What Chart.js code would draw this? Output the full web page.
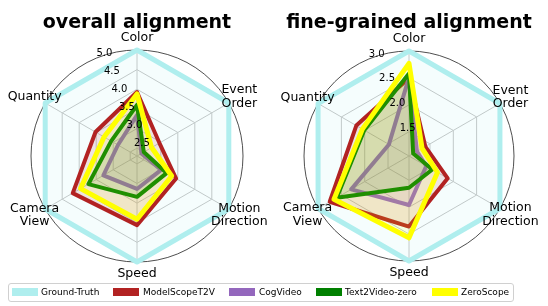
<!DOCTYPE html>
<html>
<head>
<meta charset="utf-8">
<script src="https://cdn.jsdelivr.net/npm/chart.js"></script>
<style>
  body { margin: 0; background: #fff; font-family: "DejaVu Sans", sans-serif; }
  #page { position: relative; width: 548px; height: 306px; overflow: hidden; }
  canvas { position: absolute; top: 0; }
  .title { position: absolute; top: 12px; font-weight: bold; font-size: 19px; line-height: 19px; text-align: center; color: #000; }
  #legend { position: absolute; left: 8px; top: 283px; width: 504px; height: 17px; border: 1px solid #d0d0d0; border-radius: 3px; background: rgba(255,255,255,0.8); }
  .patch { position: absolute; top: 4px; width: 26px; height: 8px; }
  .ltext { position: absolute; top: 0; line-height: 17px; font-size: 9px; color: #000; white-space: nowrap; }
</style>
</head>
<body>
<div id="page">
  <canvas id="overall" width="274" height="306" style="left:0"></canvas>
  <canvas id="fine" width="274" height="306" style="left:274px"></canvas>
  <div class="title" style="left:0; width:274px">overall alignment</div>
  <div class="title" style="left:274px; width:270px">fine-grained alignment</div>
  <div id="legend"></div>
</div>
<script>
const axisLabels = ['Color', ['Event', 'Order'], ['Motion', 'Direction'], 'Speed', ['Camera', 'View'], 'Quantity'];
const models = ['Ground-Truth', 'ModelScopeT2V', 'CogVideo', 'Text2Video-zero', 'ZeroScope'];
const colors = ['#afeeee', '#b22222', '#9467bd', '#008000', '#ffff00'];

// overall alignment (Color, Event Order, Motion Direction, Speed, Camera View, Quantity)
const overallGT = [5.0, 5.0, 5.0, 5.0, 5.0, 5.0];
const overallModelScope = [3.93, 2.96, 3.45, 4.06, 4.19, 3.52];
const overallCogVideo = [3.34, 2.43, 3.01, 3.14, 3.29, 2.86];
const overallText2Video = [3.60, 2.50, 3.17, 3.34, 3.73, 3.06];
const overallZeroScope = [3.88, 2.73, 3.32, 3.91, 3.96, 3.27];
const overallTicks = [2.5, 3.0, 3.5, 4.0, 4.5, 5.0];

// fine-grained alignment
const fineGT = [3.0, 3.0, 3.0, 3.0, 3.0, 3.0];
const fineModelScope = [2.50, 1.40, 1.88, 2.36, 2.75, 2.18];
const fineCogVideo = [2.51, 1.22, 1.42, 1.96, 2.29, 1.48];
const fineText2Video = [2.58, 1.14, 1.55, 1.64, 2.60, 2.01];
const fineZeroScope = [2.77, 1.33, 1.66, 2.57, 2.66, 2.05];
const fineTicks = [1.5, 2.0, 2.5, 3.0];

const widths = [5, 4, 4, 4, 5];

function hexA(hex, a) {
  const n = parseInt(hex.slice(1), 16);
  return `rgba(${n >> 16},${(n >> 8) & 255},${n & 255},${a})`;
}

let makeSets = (series) => series.map((vals, i) => ({
  label: models[i],
  data: vals,
  borderColor: colors[i],
  backgroundColor: hexA(colors[i], 0.12),
  borderWidth: widths[i],
  borderJoinStyle: 'round',
  fill: true,
  pointRadius: 0,
  order: 5 - i
}));

const radarDecor = {
  id: 'radarDecor',
  beforeDatasetsDraw(chart) {
    const r = chart.scales.r;
    const ctx = chart.ctx;
    ctx.save();
    ctx.beginPath();
    ctx.arc(r.xCenter, r.yCenter, r.drawingArea, 0, Math.PI * 2);
    ctx.strokeStyle = '#222';
    ctx.lineWidth = 0.8;
    ctx.stroke();
    ctx.restore();
  },
  afterDatasetsDraw(chart, args, opts) {
    const r = chart.scales.r;
    const ctx = chart.ctx;
    ctx.save();
    ctx.fillStyle = '#000';
    ctx.font = '10px "DejaVu Sans"';
    ctx.textAlign = 'left';
    ctx.textBaseline = 'bottom';
    const a = 22.5 * Math.PI / 180;
    opts.ticks.forEach(v => {
      const d = r.getDistanceFromCenterForValue(v);
      ctx.fillText(v.toFixed(1), r.xCenter - d * Math.sin(a), r.yCenter - d * Math.cos(a));
    });
    ctx.font = '12.5px "DejaVu Sans"';
    ctx.textAlign = 'center';
    ctx.textBaseline = 'middle';
    chart.data.labels.forEach((lab, i) => {
      const p = r.getPointPosition(i, r.drawingArea * 1.115);
      const lines = [].concat(lab);
      lines.forEach((s, k) => ctx.fillText(s, p.x, p.y + (k - (lines.length - 1) / 2) * 13.5));
    });
    ctx.restore();
  }
};

let makeRadar = (id, series, min, max, ticks, padding) => new Chart(document.getElementById(id), {
  type: 'radar',
  data: { labels: axisLabels, datasets: makeSets(series) },
  options: {
    responsive: false,
    animation: false,
    devicePixelRatio: 1,
    layout: { padding: padding },
    plugins: { legend: { display: false }, tooltip: { enabled: false }, title: { display: false }, radarDecor: { ticks: ticks } },
    scales: {
      r: {
        min: min,
        max: max,
        afterBuildTicks: (s) => { s.ticks = [min, ...ticks].map(v => ({ value: v })); },
        ticks: { display: false },
        grid: { color: '#c4c4c4', lineWidth: 1 },
        angleLines: { color: '#c4c4c4', lineWidth: 1 },
        pointLabels: { display: false }
      }
    }
  },
  plugins: [radarDecor]
});

makeRadar('overall',
  [overallGT, overallModelScope, overallCogVideo, overallText2Video, overallZeroScope],
  2.3, 5.0, overallTicks, { left: 31, right: 31, top: 50, bottom: 44 });

makeRadar('fine',
  [fineGT, fineModelScope, fineCogVideo, fineText2Video, fineZeroScope],
  1.05, 3.0, fineTicks, { left: 30, right: 34, top: 51, bottom: 45 });

// legend
const legend = document.getElementById('legend');
const patchX = [3, 104, 220, 307, 423];
const textX = [32, 134, 250, 336, 452];
models.forEach((m, i) => {
  const p = document.createElement('div');
  p.className = 'patch';
  p.style.left = patchX[i] + 'px';
  p.style.background = colors[i];
  legend.appendChild(p);
  const t = document.createElement('span');
  t.className = 'ltext';
  t.style.left = textX[i] + 'px';
  t.textContent = m;
  legend.appendChild(t);
});
</script>
</body>
</html>
